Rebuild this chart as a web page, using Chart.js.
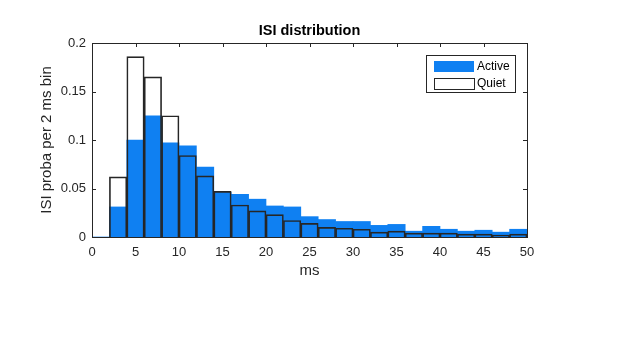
<!DOCTYPE html>
<html>
<head>
<meta charset="utf-8">
<script src="https://cdn.jsdelivr.net/npm/chart.js@4/dist/chart.umd.min.js"></script>
<style>
  html, body { margin: 0; padding: 0; background: #fff; }
  #wrap { width: 617px; height: 363px; position: relative; }
</style>
</head>
<body>
<div id="wrap"><canvas id="isi"></canvas></div>
<script>
  // bin centres (2 ms bins from 0 to 50 ms)
  const binCenters = [1, 3, 5, 7, 9, 11, 13, 15, 17, 19, 21, 23, 25, 27, 29, 31, 33, 35, 37, 39, 41, 43, 45, 47, 49];
  const active = [0, 0.031, 0.100, 0.125, 0.097, 0.094, 0.072, 0.046, 0.044, 0.039, 0.032, 0.031, 0.021,
    0.018, 0.016, 0.016, 0.012, 0.013, 0.006, 0.011, 0.008, 0.006, 0.007, 0.005, 0.008];
  const quiet = [0, 0.062, 0.186, 0.165, 0.125, 0.084, 0.063, 0.047, 0.033, 0.027, 0.023, 0.017, 0.014,
    0.010, 0.009, 0.008, 0.005, 0.006, 0.004, 0.004, 0.004, 0.003, 0.003, 0.002, 0.003];
  const seriesNames = ["Active", "Quiet"];
  const chartTitle = "ISI distribution";

  const ink = "#262626";
  const blue = "#0f80f2";
  const font = "Arial, 'Liberation Sans', Helvetica, sans-serif";

  function pts(vals) {
    return binCenters.map((x, i) => ({ x: x, y: vals[i] }));
  }

  // MATLAB style box with inward ticks, title over the axes, legend inside
  const axesBox = {
    id: "axesBox",
    beforeDatasetsDraw(chart) {
      const { ctx, chartArea: a, scales } = chart;
      const len = 4;
      ctx.save();
      ctx.strokeStyle = ink;
      ctx.lineWidth = 1;
      ctx.beginPath();
      scales.x.ticks.forEach(t => {
        const px = Math.round(scales.x.getPixelForValue(t.value)) + 0.5;
        ctx.moveTo(px, a.bottom); ctx.lineTo(px, a.bottom - len);
        ctx.moveTo(px, a.top); ctx.lineTo(px, a.top + len);
      });
      scales.y.ticks.forEach(t => {
        const py = Math.round(scales.y.getPixelForValue(t.value)) + 0.5;
        ctx.moveTo(a.left, py); ctx.lineTo(a.left + len, py);
        ctx.moveTo(a.right, py); ctx.lineTo(a.right - len, py);
      });
      ctx.stroke();

      ctx.fillStyle = "#000";
      ctx.font = "bold 14.5px " + font;
      ctx.textAlign = "center";
      ctx.textBaseline = "middle";
      ctx.fillText(chartTitle, (a.left + a.right) / 2, a.top - 12);
      ctx.restore();
    },
    afterDatasetsDraw(chart) {
      const { ctx, chartArea: a } = chart;
      ctx.save();
      ctx.strokeStyle = ink;
      ctx.lineWidth = 1;
      ctx.strokeRect(Math.round(a.left) + 0.5, Math.round(a.top) + 0.5,
        Math.round(a.right - a.left), Math.round(a.bottom - a.top));

      // legend
      const bx = Math.round(a.right) - 101, by = Math.round(a.top) + 12;
      const bw = 89, bh = 37;
      ctx.fillStyle = "#fff";
      ctx.fillRect(bx, by, bw, bh);
      ctx.strokeRect(bx + 0.5, by + 0.5, bw, bh);
      ctx.fillStyle = blue;
      ctx.fillRect(bx + 8, by + 6, 40, 11);
      ctx.strokeRect(bx + 8.5, by + 23.5, 40, 11);
      ctx.fillStyle = "#000";
      ctx.font = "12px " + font;
      ctx.textBaseline = "middle";
      ctx.fillText(seriesNames[0], bx + 51, by + 12);
      ctx.fillText(seriesNames[1], bx + 51, by + 29);
      ctx.restore();
    }
  };

  new Chart(document.getElementById("isi"), {
    type: "bar",
    data: {
      datasets: [
        {
          label: seriesNames[0],
          data: pts(active),
          backgroundColor: blue,
          borderWidth: 0,
          order: 2
        },
        {
          label: seriesNames[1],
          data: pts(quiet),
          backgroundColor: "rgba(0,0,0,0)",
          borderColor: ink,
          borderWidth: 1,
          order: 1
        }
      ]
    },
    options: {
      responsive: true,
      maintainAspectRatio: false,
      animation: false,
      layout: { padding: { left: 0, right: 90, top: 43, bottom: 0 } },
      datasets: {
        bar: { grouped: false, categoryPercentage: 1, barPercentage: 1 }
      },
      plugins: {
        legend: { display: false },
        tooltip: { enabled: false },
        title: { display: false }
      },
      scales: {
        x: {
          type: "linear",
          min: 0,
          max: 50,
          offset: false,
          grid: { display: false, drawTicks: false },
          border: { display: false },
          ticks: { stepSize: 5, color: ink, padding: 8, font: { family: font, size: 13 }, maxRotation: 0 },
          title: { display: true, text: "ms", color: ink, font: { family: font, size: 15 }, padding: { top: 0, bottom: 83 } },
          afterFit(s) { s.height = 126; }
        },
        y: {
          min: 0,
          max: 0.2,
          grid: { display: false, drawTicks: false },
          border: { display: false },
          ticks: {
            stepSize: 0.05, color: ink, padding: 6, font: { family: font, size: 13 },
            callback: v => String(Number(v.toFixed(2)))
          },
          title: { display: true, text: "ISI proba per 2 ms bin", color: ink, font: { family: font, size: 15 }, padding: { top: 38, bottom: 0 } },
          afterFit(s) { s.width = 92; }
        }
      }
    },
    plugins: [axesBox]
  });
</script>
</body>
</html>
